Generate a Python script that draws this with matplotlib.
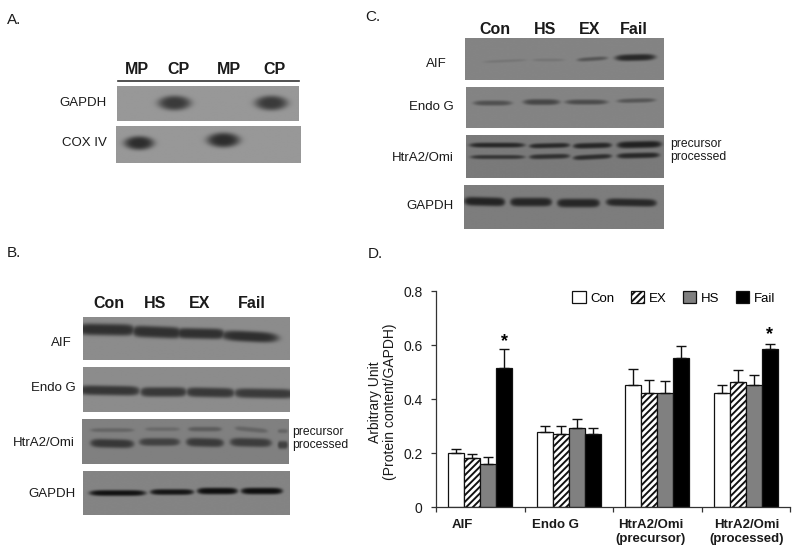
import numpy as np
import matplotlib
matplotlib.use("Agg")
import matplotlib.pyplot as plt
from matplotlib.patches import Patch

plt.rcParams["font.family"] = ["Liberation Sans", "DejaVu Sans"]
plt.rcParams["hatch.linewidth"] = 1.4

# ----------------------------------------------------------------------
# panel D values
# ----------------------------------------------------------------------
CATEGORIES = ["AIF", "Endo G", "HtrA2/Omi\n(precursor)", "HtrA2/Omi\n(processed)"]
GROUPS = ["Con", "EX", "HS", "Fail"]
CON = [0.20, 0.28, 0.454, 0.423]
EX = [0.181, 0.273, 0.423, 0.464]
HS = [0.161, 0.293, 0.423, 0.454]
FAIL = [0.515, 0.273, 0.553, 0.586]
CON_ERR = [0.016, 0.021, 0.057, 0.031]
EX_ERR = [0.015, 0.028, 0.048, 0.046]
HS_ERR = [0.024, 0.033, 0.044, 0.035]
FAIL_ERR = [0.071, 0.02, 0.046, 0.019]
YTICKS = [0, 0.2, 0.4, 0.6, 0.8]
YTICK_LABELS = ["0", "0.2", "0.4", "0.6", "0.8"]
STAR_Y = [0.612, 0.639]
STAR_CATS = [0, 3]

# blot bands: x start, x end, y start, y end, half thickness, darkness, edge power
A_GAPDH = [(158, 191, 103, 103, 7.5, 58, 2), (255, 288, 103, 103, 7.5, 58, 2)]
A_COX = [(124, 154, 143, 143, 7, 45, 2), (207, 240, 140, 140, 7.5, 45, 2)]

B_AIF = [(78, 135, 329, 330, 6, 48, 8), (132, 182, 331, 333, 6, 48, 8),
         (176, 225, 333, 334, 5.5, 48, 8), (220, 279, 335, 338, 5.5, 46, 4)]
B_ENDO = [(78, 140, 390, 391, 5, 54, 8), (140, 187, 392, 392, 5, 56, 8),
          (186, 235, 392, 393, 5, 56, 8), (234, 295, 393, 394, 5, 58, 8)]
B_HTRA = [(90, 134, 430, 430, 2, 100, 6), (145, 180, 429, 429, 2, 105, 6),
          (188, 222, 429, 429, 2.4, 92, 6), (235, 268, 428, 431, 2.4, 100, 6),
          (278, 288, 431, 431, 2, 100, 6),
          (90, 134, 443, 444, 4.5, 55, 6), (139, 180, 442, 442, 4, 65, 6),
          (186, 224, 442, 443, 4.5, 58, 6), (230, 272, 442, 443, 4.5, 60, 6),
          (278, 288, 445, 445, 4, 65, 6)]
B_GAPDH = [(89, 146, 493, 493, 3, 18, 6), (150, 194, 492, 492, 3, 22, 6),
           (197, 238, 491, 491, 3.4, 15, 6), (241, 283, 491, 491, 3.4, 15, 6)]

C_AIF = [(483, 527, 62, 60, 1.2, 115, 4), (532, 565, 60, 60, 1.3, 115, 4),
         (577, 608, 60, 58, 2, 85, 4), (615, 656, 58, 57, 3.4, 40, 4)]
C_ENDO = [(473, 512, 103, 103, 2.6, 80, 4), (523, 560, 102, 102, 3, 70, 4),
          (565, 608, 102, 102, 2.6, 75, 4), (617, 656, 101, 100, 2.2, 85, 4)]
C_HTRA = [(469, 525, 145, 145, 2.5, 38, 6), (529, 570, 146, 145, 2.5, 40, 6),
          (573, 612, 146, 145, 2.8, 38, 6), (617, 662, 145, 144, 3.5, 32, 6),
          (470, 525, 157, 157, 2.1, 52, 6), (529, 570, 157, 156, 2.5, 48, 6),
          (573, 612, 158, 156, 2.5, 45, 6), (617, 660, 156, 155, 2.8, 40, 6)]
C_GAPDH = [(464, 505, 201, 202, 4.5, 35, 8), (510, 552, 202, 202, 4.5, 38, 8),
           (557, 600, 203, 203, 4.5, 38, 8), (606, 657, 202, 203, 4, 40, 8)]


def soften(img):
    # small box blur, the reference is a blurry jpeg scan
    kernel = np.ones(5) / 5
    pad = np.pad(img, 2, mode="edge")
    pad = np.apply_along_axis(lambda r: np.convolve(r, kernel, mode="same"), 0, pad)
    pad = np.apply_along_axis(lambda r: np.convolve(r, kernel, mode="same"), 1, pad)
    return pad[2:-2, 2:-2]


def draw_blot(ov, x0, x1, y0, y1, bands, bg=148):
    # rough synthetic film strip: background with soft dark bands on top
    xs = np.arange(x0, x1 + 0.5, 0.5)
    ys = np.arange(y0, y1 + 0.5, 0.5)
    xx, yy = np.meshgrid(xs, ys)
    img = np.full(xx.shape, float(bg))
    for xa, xb, ya, yb, half, dark, power in bands:
        cx = (xa + xb) / 2
        hw = (xb - xa) / 2
        centre = ya + (yb - ya) * (xx - xa) / (xb - xa)
        r = np.abs((xx - cx) / hw) ** power + ((yy - centre) / half) ** 2
        img = np.minimum(img, bg - (bg - dark) * np.exp(-r ** 2))
    ov.imshow(soften(img), cmap="gray", vmin=0, vmax=255, extent=(x0, x1, y1, y0),
              interpolation="bilinear", aspect="auto", zorder=1)


def label(ov, x, y, s, ha="right", size=9.5, weight="normal"):
    ov.text(x, y, s, ha=ha, va="center", fontsize=size, fontweight=weight,
            color="#1a1a1a", zorder=3)


def main():
    fig = plt.figure(figsize=(8, 5.52), dpi=100)
    ov = fig.add_axes([0, 0, 1, 1])
    ov.set_xlim(0, 800)
    ov.set_ylim(552, 0)
    ov.axis("off")

    for x, y, s in [(7, 20, "A."), (7, 253, "B."), (365, 17, "C."), (368, 254, "D.")]:
        label(ov, x, y, s, ha="left", size=11)

    # --- panel A
    for x, s in zip([137, 178, 229, 275], ["MP", "CP", "MP", "CP"]):
        label(ov, x, 70, s, ha="center", size=11.5, weight="bold")
    ov.plot([118, 299], [81, 81], color="#333333", lw=1.2, zorder=2)
    draw_blot(ov, 117, 299, 86, 121, A_GAPDH, bg=152)
    draw_blot(ov, 116, 301, 126, 163, A_COX, bg=152)
    label(ov, 107, 103, "GAPDH")
    label(ov, 107, 143, "COX IV")

    # --- panel B
    for x, s in zip([109, 155, 200, 252], ["Con", "HS", "EX", "Fail"]):
        label(ov, x, 303, s, ha="center", size=11.5, weight="bold")
    draw_blot(ov, 83, 290, 317, 360, B_AIF, bg=140)
    draw_blot(ov, 83, 290, 367, 412, B_ENDO, bg=140)
    draw_blot(ov, 82, 289, 419, 464, B_HTRA, bg=128)
    draw_blot(ov, 83, 290, 471, 515, B_GAPDH, bg=132)
    label(ov, 72, 343, "AIF")
    label(ov, 76, 388, "Endo G")
    label(ov, 75, 443, "HtrA2/Omi")
    label(ov, 76, 494, "GAPDH")
    label(ov, 292, 432, "precursor", ha="left", size=8.7)
    label(ov, 292, 445, "processed", ha="left", size=8.7)

    # --- panel C
    for x, s in zip([495, 545, 590, 634], ["Con", "HS", "EX", "Fail"]):
        label(ov, x, 29, s, ha="center", size=11.5, weight="bold")
    draw_blot(ov, 465, 664, 38, 80, C_AIF, bg=132)
    draw_blot(ov, 466, 664, 87, 128, C_ENDO, bg=132)
    draw_blot(ov, 466, 664, 135, 178, C_HTRA, bg=122)
    draw_blot(ov, 464, 664, 185, 229, C_GAPDH, bg=125)
    label(ov, 447, 64, "AIF")
    label(ov, 454, 107, "Endo G")
    label(ov, 454, 158, "HtrA2/Omi")
    label(ov, 454, 206, "GAPDH")
    label(ov, 670, 144, "precursor", ha="left", size=8.7)
    label(ov, 670, 157, "processed", ha="left", size=8.7)

    # --- panel D
    ax = fig.add_axes([436 / 800, 1 - 507.3 / 552, 354 / 800, 216 / 552])
    ax.patch.set_alpha(0)
    x = np.arange(len(CATEGORIES))
    width = 0.181
    series = [(CON, CON_ERR, "white", None), (EX, EX_ERR, "white", "/////"),
              (HS, HS_ERR, "#808080", None), (FAIL, FAIL_ERR, "black", None)]
    handles = []
    for i, (vals, errs, color, hatch) in enumerate(series):
        pos = x + (i - 1.5) * width
        ax.bar(pos, vals, width, color=color, hatch=hatch, edgecolor="#111111", linewidth=0.9,
               yerr=[np.zeros(len(errs)), errs],
               error_kw=dict(ecolor="#111111", elinewidth=1, capsize=3.5, capthick=1))
        handles.append(Patch(facecolor=color, hatch=hatch, edgecolor="#111111", linewidth=0.9,
                             label=GROUPS[i]))
    for cat, y in zip(STAR_CATS, STAR_Y):
        ax.text(x[cat] + 1.5 * width, y, "*", ha="center", va="center", fontsize=13, fontweight="bold")

    ax.set_xlim(-0.5, 3.5)
    ax.set_ylim(0, 0.8)
    ax.set_xticks(np.arange(-0.5, 3.6, 1))
    ax.set_xticklabels([])
    ax.set_yticks(YTICKS)
    ax.set_yticklabels(YTICK_LABELS, fontsize=10, color="#1a1a1a")
    ax.tick_params(length=3.6, width=0.9, color="#333333")
    ax.tick_params(axis="y", pad=6)
    for side in ["top", "right"]:
        ax.spines[side].set_visible(False)
    ax.spines["left"].set_linewidth(0.9)
    ax.spines["left"].set_color("#333333")
    ax.spines["bottom"].set_linewidth(0.9)
    ax.spines["bottom"].set_color("#333333")

    ov.text(382.5, 402, "Arbitrary Unit\n(Protein content/GAPDH)", rotation=90, ha="center", va="center",
            fontsize=10, color="#1a1a1a", linespacing=1.05, multialignment="center")

    for px, s in zip([462, 556, 651, 747], CATEGORIES):
        ov.text(px, 519, s, ha="center", va="top", fontsize=9.5, fontweight="bold",
                color="#1a1a1a", linespacing=1.25)

    ax.legend(handles=handles, ncol=4, loc="upper right", frameon=False, fontsize=9.5,
              handlelength=1.0, handleheight=1.0, handletextpad=0.35, columnspacing=1.25,
              bbox_to_anchor=(0.972, 1.025), borderaxespad=0)

    fig.savefig("out.png", dpi=100)
    plt.close(fig)


if __name__ == "__main__":
    main()
